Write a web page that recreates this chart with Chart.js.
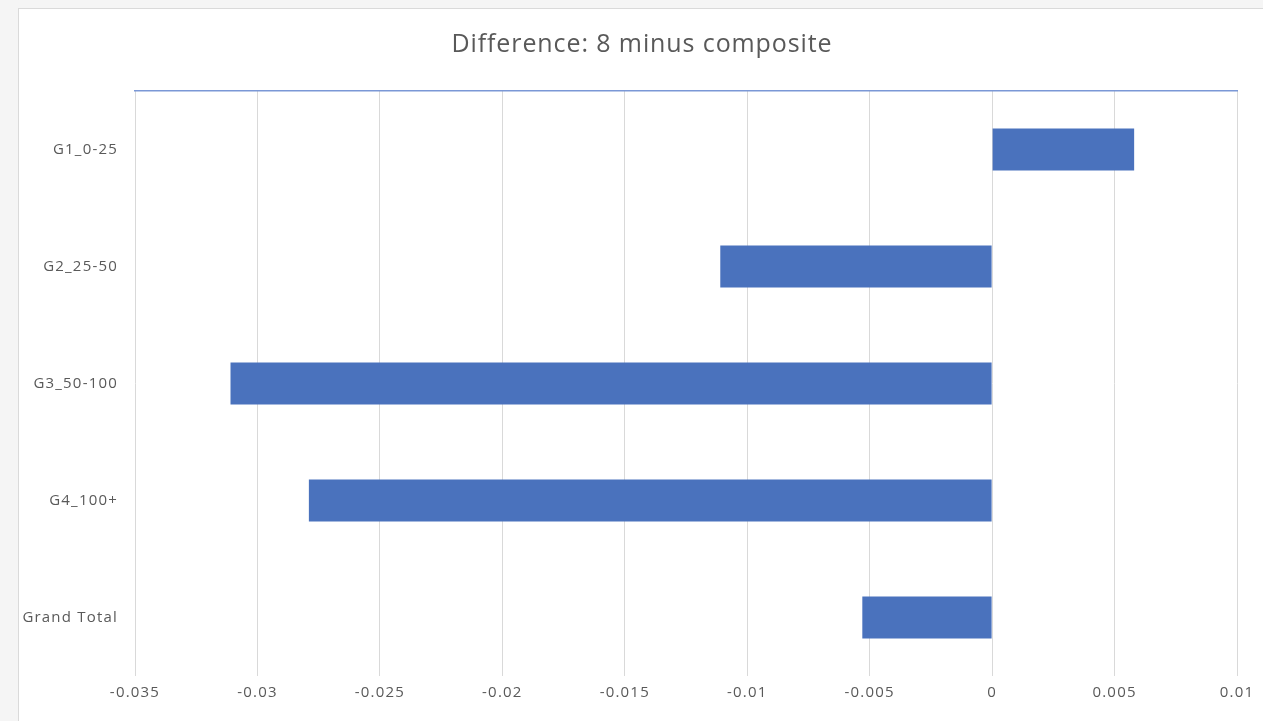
<!DOCTYPE html>
<html>
<head>
<meta charset="utf-8">
<script src="https://cdn.jsdelivr.net/npm/chart.js@4/dist/chart.umd.min.js"></script>
<style>
  html, body { margin: 0; padding: 0; width: 1263px; height: 721px; overflow: hidden; background: #f5f5f5; }
  #frame { position: absolute; left: 18px; top: 8px; width: 1300px; height: 760px; background: #fff; border: 1px solid #dadada; box-sizing: border-box; }
  #wrap { position: absolute; left: 0; top: 0; width: 1263px; height: 721px; }
</style>
</head>
<body>
<div id="frame"></div>
<div id="wrap"><canvas id="chart" width="1263" height="721"></canvas></div>
<script>
// Category labels (top to bottom)
const categories = ['G1_0-25', 'G2_25-50', 'G3_50-100', 'G4_100+', 'Grand Total'];
// Difference values: 8 minus composite
const differences = [0.0058, -0.0111, -0.0311, -0.0279, -0.0053];
// Value axis tick labels, left to right
const tickLabels = ['-0.035', '-0.03', '-0.025', '-0.02', '-0.015', '-0.01', '-0.005', '0', '0.005', '0.01'];
const axisMin = -0.035;
const axisMax = 0.01;
const axisStep = 0.005;
const chartTitle = 'Difference: 8 minus composite';

const FONT = '"Open Sans", Lato, sans-serif';
const TEXT = '#595959';

// Slightly wider letter spacing for axis labels, and a title centred over the whole frame
const textStyle = {
  id: 'textStyle',
  beforeDraw(chart) {
    chart.ctx.letterSpacing = '1.2px';
  },
  afterDraw(chart) {
    const ctx = chart.ctx;
    ctx.save();
    ctx.letterSpacing = '0.9px';
    ctx.font = '25px ' + FONT;
    ctx.fillStyle = TEXT;
    ctx.textAlign = 'center';
    ctx.textBaseline = 'middle';
    ctx.fillText(chartTitle, 642, 45);
    ctx.restore();
    ctx.letterSpacing = '0px';
  }
};

new Chart(document.getElementById('chart'), {
  type: 'bar',
  data: {
    labels: categories,
    datasets: [{
      data: differences,
      backgroundColor: '#4A72BD',
      borderWidth: 0,
      categoryPercentage: 1,
      barPercentage: 0.36
    }]
  },
  options: {
    indexAxis: 'y',
    responsive: false,
    animation: false,
    layout: { padding: { left: 0, right: 26, top: 91, bottom: 0 } },
    plugins: {
      legend: { display: false },
      tooltip: { enabled: false },
      title: { display: false }
    },
    scales: {
      x: {
        type: 'linear',
        position: 'bottom',
        min: axisMin,
        max: axisMax,
        ticks: {
          stepSize: axisStep,
          autoSkip: false,
          maxRotation: 0,
          color: TEXT,
          font: { family: FONT, size: 15 },
          padding: 8,
          callback: (v, i) => tickLabels[i]
        },
        grid: { color: '#d9d9d9', lineWidth: 1, drawTicks: false },
        border: { display: false },
        afterFit: (s) => { s.height = 45; }
      },
      xTop: {
        type: 'linear',
        position: 'top',
        min: axisMin,
        max: axisMax,
        ticks: { display: false },
        grid: { display: false, drawTicks: false },
        border: { display: true, color: '#7b98d6', width: 1.5 },
        afterFit: (s) => { s.height = 0; }
      },
      y: {
        ticks: {
          color: TEXT,
          font: { family: FONT, size: 15 },
          padding: 17
        },
        grid: { display: false, drawTicks: false },
        border: { display: false },
        afterFit: (s) => { s.width = 135; }
      }
    }
  },
  plugins: [textStyle]
});
</script>
</body>
</html>
